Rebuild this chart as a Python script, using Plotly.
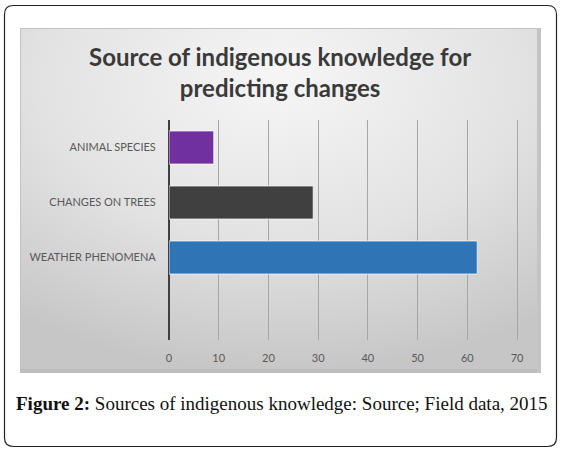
import base64

import plotly.graph_objs as go

# data
categories = ["WEATHER PHENOMENA", "CHANGES ON TREES", "ANIMAL SPECIES"]
values = [62, 29, 9]
bar_colors = ["#2e75b6", "#404040", "#7030a0"]
x_ticks = [0, 10, 20, 30, 40, 50, 60, 70]

W, H = 562, 452
# plot area in pixels; the x axis runs 0..70 over 169..517, the area is a bit
# wider so the last grid line is not dropped at the edge
L, R, T, B = 169, 522, 120, 340
X_MAX = 70 * (R - L) / (517 - L)


def px(x):
    return (x - L) / (R - L)


def py(y):
    return (B - y) / (B - T)


# gray gradient panel behind the chart, as an svg image
svg = """<svg xmlns="http://www.w3.org/2000/svg" width="521" height="345" viewBox="0 0 521 345" preserveAspectRatio="none">
<defs><radialGradient id="g" cx="0.5" cy="0.15" r="0.85">
<stop offset="0" stop-color="#f6f6f6"/><stop offset="0.55" stop-color="#e2e2e2"/><stop offset="1" stop-color="#c6c6c6"/>
</radialGradient></defs>
<rect x="0" y="0" width="521" height="345" fill="url(#g)"/>
<rect x="0.5" y="0.5" width="520" height="344" fill="none" stroke="#c2c2c2"/>
<rect x="0" y="341" width="521" height="4" fill="#bdbdbd"/>
<rect x="517" y="0" width="4" height="345" fill="#c4c4c4"/>
</svg>"""
svg_uri = "data:image/svg+xml;base64," + base64.b64encode(svg.encode()).decode()

fig = go.Figure()
fig.add_trace(go.Bar(
    x=values, y=list(range(len(categories))), orientation="h",
    marker=dict(color=bar_colors, line=dict(color="rgba(255,255,255,0.7)", width=1)),
    width=0.6, hoverinfo="skip",
))

fig.add_layout_image(dict(
    source=svg_uri, xref="paper", yref="paper",
    x=px(20), y=py(28), sizex=px(541) - px(20), sizey=py(28) - py(373),
    sizing="stretch", xanchor="left", yanchor="top", layer="below",
))

# rounded outer frame
x0, x1, y0, y1, r = px(4.5), px(556.5), py(5.5), py(446.5), 9
rx, ry = r / (R - L), r / (B - T)
path = (f"M {x0 + rx},{y0} L {x1 - rx},{y0} Q {x1},{y0} {x1},{y0 - ry} "
        f"L {x1},{y1 + ry} Q {x1},{y1} {x1 - rx},{y1} L {x0 + rx},{y1} "
        f"Q {x0},{y1} {x0},{y1 + ry} L {x0},{y0 - ry} Q {x0},{y0} {x0 + rx},{y0} Z")
fig.add_shape(type="path", path=path, xref="paper", yref="paper",
              line=dict(color="#222222", width=1.2), layer="below")

fig.add_annotation(
    text="Source of indigenous knowledge for<br>predicting changes",
    xref="paper", yref="paper", x=px(280), y=py(72), xanchor="center", yanchor="middle",
    showarrow=False, font=dict(family="Lato", size=24, color="#3a3a3a", weight="bold"),
)
fig.add_annotation(
    text="<b>Figure 2:</b> Sources of indigenous knowledge: Source; Field data, 2015",
    xref="paper", yref="paper", x=px(14), y=py(403), xanchor="left", yanchor="middle",
    showarrow=False, font=dict(family="Liberation Serif", size=19, color="#111111"),
)

fig.update_xaxes(
    range=[0, X_MAX], tickvals=x_ticks, showgrid=True, gridcolor="#a6a6a6", gridwidth=1,
    zeroline=True, zerolinecolor="#404040", zerolinewidth=2,
    ticks="outside", ticklen=8, tickcolor="rgba(0,0,0,0)",
    tickfont=dict(family="Lato", size=11, color="#595959"), fixedrange=True,
)
fig.update_yaxes(
    range=[-1.5, 2.5], tickvals=list(range(len(categories))), ticktext=categories,
    showgrid=False, zeroline=False, ticks="outside", ticklen=10, tickcolor="rgba(0,0,0,0)",
    tickfont=dict(family="Lato", size=11, color="#595959"), fixedrange=True,
)
fig.update_layout(
    width=W, height=H, margin=dict(l=L, r=W - R, t=T, b=H - B),
    paper_bgcolor="white", plot_bgcolor="rgba(0,0,0,0)",
    showlegend=False, bargap=0.4,
)
# drop the browser's default 8px body margin so the figure sits at 0,0
fig.write_html("out.html", config={"displayModeBar": False},
               post_script="document.body.style.margin = '0';")
